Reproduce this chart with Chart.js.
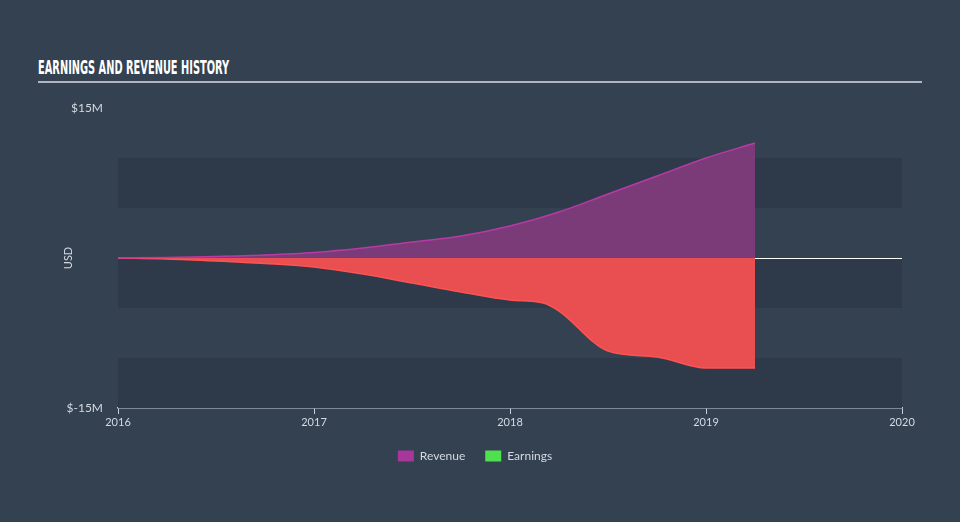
<!DOCTYPE html>
<html lang="en">
<head>
    <meta charset="UTF-8">
    <title>Earnings and Revenue History</title>
    <script src="https://cdn.jsdelivr.net/npm/chart.js"></script>
    <style>
        html, body {
            margin: 0;
            padding: 0;
            background-color: #344150;
        }

        .wrap {
            position: relative;
            width: 960px;
            height: 522px;
        }

        #chartTitle {
            position: absolute;
            left: 38px;
            top: 56px;
            font-family: "DejaVu Sans Condensed", "Liberation Sans Narrow", sans-serif;
            font-weight: bold;
            font-size: 19px;
            color: #ffffff;
            white-space: nowrap;
            transform-origin: 0 0;
        }

        .title-rule {
            position: absolute;
            left: 38px;
            top: 81px;
            width: 884px;
            height: 2px;
            background-color: #aeb6bf;
        }

        canvas {
            position: absolute;
            left: 0;
            top: 0;
        }
    </style>
</head>
<body>
    <div class="wrap">
        <span id="chartTitle">EARNINGS AND REVENUE HISTORY</span>
        <div class="title-rule"></div>
        <canvas id="historyChart" width="960" height="522"></canvas>
    </div>

    <script>
        // squeeze the title into the narrow width of the original
        const titleEl = document.getElementById('chartTitle');
        titleEl.style.transform = 'scaleX(' + (191 / titleEl.offsetWidth) + ')';

        // values in $M, x in decimal years
        const revenueDates = [2016.0, 2016.25, 2016.5, 2016.75, 2017.0, 2017.25, 2017.5, 2017.75, 2018.0, 2018.25, 2018.5, 2018.75, 2019.0, 2019.25];
        const revenueValues = [0, 0.05, 0.15, 0.3, 0.55, 1.0, 1.6, 2.2, 3.2, 4.6, 6.4, 8.2, 10.0, 11.5];

        const earningsDates = [2016.0, 2016.25, 2016.5, 2016.75, 2017.0, 2017.25, 2017.5, 2017.75, 2018.0, 2018.17, 2018.25, 2018.5, 2018.75, 2019.0, 2019.25];
        const earningsValues = [0, -0.1, -0.3, -0.55, -0.9, -1.6, -2.5, -3.4, -4.2, -4.5, -5.3, -9.3, -9.9, -11.0, -11.0];

        const yearTicks = [2016, 2017, 2018, 2019, 2020];
        const valueTicks = [-15, 15];
        const bandRanges = [[5, 10], [-5, 0], [-15, -10]];

        const seriesNames = ['Revenue', 'Earnings'];
        const legendColors = ['#a8379c', '#4fe04f'];

        function toPoints(xs, ys) {
            return xs.map((x, i) => ({ x: x, y: ys[i] }));
        }

        const bandsPlugin = {
            id: 'bands',
            beforeDatasetsDraw(chart) {
                const { ctx, chartArea, scales } = chart;
                ctx.save();
                ctx.fillStyle = '#2e3a4a';
                bandRanges.forEach(b => {
                    const top = scales.y.getPixelForValue(b[1]);
                    const bottom = scales.y.getPixelForValue(b[0]);
                    ctx.fillRect(chartArea.left, top, chartArea.right - chartArea.left, bottom - top);
                });
                // zero line
                const zero = Math.round(scales.y.getPixelForValue(0)) + 0.5;
                ctx.strokeStyle = '#ffffff';
                ctx.lineWidth = 1;
                ctx.beginPath();
                ctx.moveTo(chartArea.left, zero);
                ctx.lineTo(chartArea.right, zero);
                ctx.stroke();
                ctx.restore();
            },
            afterDraw(chart) {
                const { ctx, scales } = chart;
                ctx.save();
                ctx.translate(68, scales.y.getPixelForValue(0));
                ctx.rotate(-Math.PI / 2);
                ctx.fillStyle = '#d3dae2';
                ctx.font = '11px Lato, sans-serif';
                ctx.textAlign = 'center';
                ctx.textBaseline = 'middle';
                ctx.fillText('USD', 0, 0);
                ctx.restore();
            }
        };

        const ctx = document.getElementById('historyChart').getContext('2d');

        const historyChart = new Chart(ctx, {
            type: 'line',
            data: {
                datasets: [{
                    label: seriesNames[0],
                    data: toPoints(revenueDates, revenueValues),
                    borderColor: '#b83aa6',
                    backgroundColor: '#7b3a78',
                    borderWidth: 1.5,
                    fill: 'origin',
                    pointRadius: 0,
                    cubicInterpolationMode: 'monotone'
                }, {
                    label: seriesNames[1],
                    data: toPoints(earningsDates, earningsValues),
                    borderColor: '#ff5353',
                    backgroundColor: '#e94e50',
                    borderWidth: 1.5,
                    fill: 'origin',
                    pointRadius: 0,
                    cubicInterpolationMode: 'monotone'
                }]
            },
            options: {
                responsive: false,
                animation: false,
                layout: {
                    padding: { left: 48, right: 58, top: 108, bottom: 50 }
                },
                plugins: {
                    tooltip: { enabled: false },
                    legend: {
                        position: 'bottom',
                        labels: {
                            boxWidth: 16,
                            boxHeight: 11,
                            padding: 20,
                            color: '#d3dae2',
                            font: { family: 'Lato, sans-serif', size: 12 },
                            generateLabels: () => seriesNames.map((name, i) => ({
                                text: name,
                                fillStyle: legendColors[i],
                                strokeStyle: legendColors[i],
                                lineWidth: 0,
                                fontColor: '#d3dae2',
                                datasetIndex: i
                            }))
                        }
                    }
                },
                scales: {
                    x: {
                        type: 'linear',
                        min: 2016,
                        max: 2020,
                        afterBuildTicks: scale => {
                            scale.ticks = yearTicks.map(v => ({ value: v }));
                        },
                        afterFit: scale => { scale.height = 22; },
                        grid: {
                            drawOnChartArea: false,
                            drawTicks: true,
                            tickLength: 6,
                            color: '#c5d0dc'
                        },
                        border: { display: true, color: '#c5d0dc', width: 1.5 },
                        ticks: {
                            color: '#d3dae2',
                            padding: 2,
                            maxRotation: 0,
                            font: { family: 'Lato, sans-serif', size: 11 },
                            callback: v => String(v)
                        }
                    },
                    y: {
                        min: -15,
                        max: 15,
                        afterBuildTicks: scale => {
                            scale.ticks = valueTicks.map(v => ({ value: v }));
                        },
                        afterFit: scale => { scale.width = 70; },
                        grid: { display: false, drawTicks: false },
                        border: { display: false },
                        ticks: {
                            color: '#d3dae2',
                            padding: 15,
                            font: { family: 'Lato, sans-serif', size: 12 },
                            callback: v => '$' + v + 'M'
                        }
                    }
                }
            },
            plugins: [bandsPlugin]
        });
    </script>
</body>
</html>
